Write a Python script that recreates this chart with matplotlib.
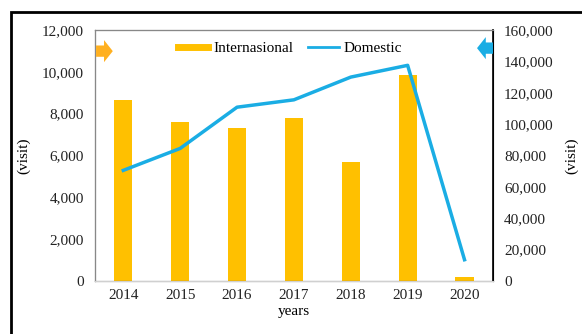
import matplotlib.pyplot as plt
import matplotlib.patches as mpatches
from matplotlib.lines import Line2D

years = ['2014', '2015', '2016', '2017', '2018', '2019', '2020']
internasional = [8650, 7580, 7330, 7780, 5700, 9870, 180]
domestic = [70500, 84500, 110800, 115500, 130000, 137500, 13500]

plt.rcParams['font.family'] = ['Liberation Serif', 'DejaVu Serif']

fig = plt.figure(figsize=(5.82, 3.34), dpi=100)
ax = fig.add_axes([0.163, 0.159, 0.684, 0.751])
ax2 = ax.twinx()

x = list(range(len(years)))
ax.bar(x, internasional, width=0.32, color='#FFC000', zorder=2)
ax2.plot(x, domestic, color='#1AADE4', linewidth=2.5, zorder=3)

ax.set_xlim(-0.5, 6.5)
ax.set_ylim(0, 12000)
ax2.set_ylim(0, 160000)
ax.set_yticks(range(0, 12001, 2000))
ax2.set_yticks(range(0, 160001, 20000))
ax.set_yticklabels(['{:,}'.format(v) for v in range(0, 12001, 2000)])
ax2.set_yticklabels(['{:,}'.format(v) for v in range(0, 160001, 20000)])
ax.set_xticks(x)
ax.set_xticklabels(years)

for a in (ax, ax2):
    a.tick_params(length=0, labelsize=11, colors='#222222', pad=8)
ax.tick_params(axis='x', pad=6)

ax.set_xlabel('years', fontsize=11, labelpad=2)
ax.set_ylabel('(visit)', fontsize=11, labelpad=8)
ax2.set_ylabel('(visit)', fontsize=11, labelpad=8)

for s in ('left', 'top'):
    ax2.spines[s].set_color('#888888')
ax2.spines['bottom'].set_color('#d0d0d0')
ax2.spines['right'].set_color('black')
ax2.spines['right'].set_linewidth(1.2)

# block arrows at top corners
ax2.add_patch(mpatches.FancyArrow(0.003, 0.916, 0.042, 0, width=0.045, head_width=0.088,
                                  head_length=0.022, length_includes_head=True,
                                  transform=ax.transAxes, color='#FFB020', lw=0,
                                  clip_on=False, zorder=4))
ax2.add_patch(mpatches.FancyArrow(1.0, 0.928, -0.04, 0, width=0.045, head_width=0.088,
                                  head_length=0.022, length_includes_head=True,
                                  transform=ax.transAxes, color='#1AADE4', lw=0,
                                  clip_on=False, zorder=4))

handles = [Line2D([0], [0], color='#FFC000', linewidth=5),
           Line2D([0], [0], color='#1AADE4', linewidth=2)]
ax.legend(handles, ['Internasional', 'Domestic'], loc='upper center',
          bbox_to_anchor=(0.49, 1.01), ncol=2, frameon=False, fontsize=11,
          handlelength=2.0, handletextpad=0.3, columnspacing=1.0)

# outer frame
fig.patches.append(mpatches.Rectangle((11 / 582, -0.1), 1.1, 0.1 + 1 - 12 / 334,
                                      transform=fig.transFigure, fill=False,
                                      edgecolor='black', linewidth=2))

fig.savefig('out.png', dpi=100)
